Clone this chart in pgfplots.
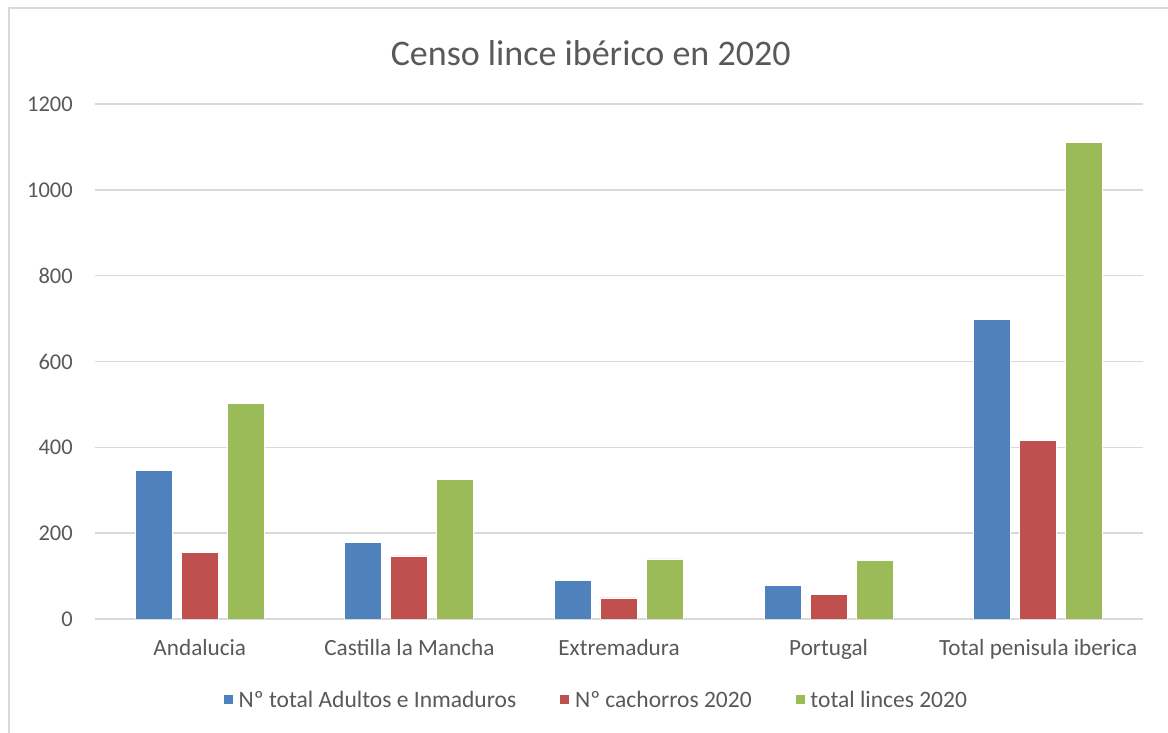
\documentclass[border=0pt]{standalone}
\usepackage{pgfplots}
\pgfplotsset{compat=1.18}
\usepackage{fontspec}
\setmainfont{Carlito}
\definecolor{cblue}{HTML}{4F81BD}
\definecolor{cred}{HTML}{C0504D}
\definecolor{cgreen}{HTML}{9BBB59}
\definecolor{ctext}{HTML}{595959}
\definecolor{cgrid}{HTML}{D9D9D9}
\begin{document}
\begin{tikzpicture}
\useasboundingbox (0,0) rectangle (1168pt,733pt);
\fill[white] (0,0) rectangle (1168pt,733pt);
\draw[cgrid, line width=2pt] (9pt,0) -- (9pt,725pt) -- (1168pt,725pt);
\begin{axis}[
  at={(95pt,114pt)}, anchor=south west,
  width=1048pt, height=515pt, scale only axis,
  ybar=9pt, bar width=37pt,
  xmin=-0.5, xmax=4.5, ymin=0, ymax=1200,
  xtick={0,1,2,3,4},
  xticklabels={Andalucia, Castilla la Mancha, Extremadura, Portugal, Total penisula iberica},
  ytick={0,200,400,600,800,1000,1200},
  major tick length=0pt,
  axis line style={draw=none},
  ymajorgrids, major grid style={cgrid, line width=1.5pt},
  /pgf/number format/assume math mode=true,
  /pgf/number format/1000 sep={},
  yticklabel style={font=\fontsize{22.5}{26}\selectfont, text=ctext, anchor=east, inner sep=0pt, xshift=-22pt},
  xticklabel style={font=\fontsize{23.2}{27}\selectfont, text=ctext, anchor=north, inner sep=0pt, yshift=-20pt},
  title={Censo lince ibérico en 2020},
  title style={font=\fontsize{36}{42}\selectfont, text=ctext, at={(0.473,1.064)}, anchor=base},
  legend columns=3,
  legend style={at={(0.478,-0.157)}, anchor=center, draw=none, fill=none,
    font=\fontsize{23.5}{27}\selectfont, text=ctext,
    /tikz/every odd column/.append style={column sep=3pt},
    /tikz/every even column/.append style={column sep=41pt}},
  legend image code/.code={\fill[#1] (0pt,-5pt) rectangle (10pt,5pt);},
  every axis plot/.append style={draw=white, line width=0.8pt},
]
\addplot[fill=cblue] coordinates {(0,347) (1,179) (2,89) (3,79) (4,697)};
\addplot[fill=cred] coordinates {(0,156) (1,147) (2,49) (3,58) (4,415)};
\addplot[fill=cgreen] coordinates {(0,503) (1,326) (2,140) (3,137) (4,1111)};
\legend{Nº total Adultos e Inmaduros, Nº cachorros 2020, total linces 2020}
\end{axis}
\end{tikzpicture}
\end{document}
